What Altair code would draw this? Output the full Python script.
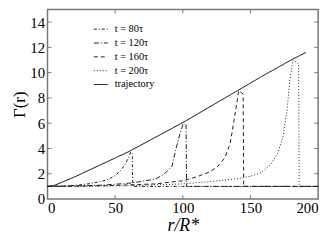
import altair as alt
import pandas as pd

traj_x = [0, 5, 10, 20, 30, 40, 50, 60, 80, 100, 120, 140, 160, 180, 191]
traj_y = [1, 1.08, 1.3, 1.75, 2.25, 2.75, 3.25, 3.75, 4.9, 6.05, 7.3, 8.55, 9.8, 11.0, 11.6]

t80_x = [0, 10, 20, 30, 40, 45, 50, 54, 57, 60, 61.5, 62.6, 63.0, 100, 150, 200]
t80_y = [1, 1.02, 1.08, 1.2, 1.4, 1.57, 1.85, 2.25, 2.7, 3.3, 3.72, 3.6, 1.0, 1.0, 1.0, 1.0]

t120_x = [0, 20, 40, 60, 70, 80, 86, 92, 95, 98, 100.5, 102.4, 102.8, 150, 200]
t120_y = [1, 1.03, 1.1, 1.25, 1.4, 1.6, 1.95, 2.6, 4.0, 5.2, 6.05, 5.9, 1.0, 1.0, 1.0]

t160_x = [0, 40, 80, 100, 110, 120, 126, 131, 135, 138, 141.3, 144.6, 145.0, 200]
t160_y = [1, 1.05, 1.2, 1.45, 1.75, 2.15, 2.6, 3.25, 4.4, 6.3, 8.58, 8.3, 1.0, 1.0]

t200_x = [0, 60, 100, 120, 140, 150, 158, 165, 170, 174, 177, 179, 181.3, 185.6, 186.0, 200]
t200_y = [1, 1.05, 1.2, 1.38, 1.6, 1.8, 2.1, 2.75, 3.6, 4.9, 7.0, 9.3, 11.0, 10.7, 1.0, 1.0]

labels = ["t = 80τ", "t = 120τ", "t = 160τ", "t = 200τ", "trajectory"]
dashes = [[3, 2, 1, 2], [5, 2, 1, 2], [4, 3], [1, 2], [1, 0]]
colors = ["#222222", "#222222", "#222222", "#222222", "#000000"]
widths = [1.0, 1.0, 1.0, 1.0, 1.5]

xticks = [0, 50, 100, 150, 200]
yticks = [0, 2, 4, 6, 8, 10, 12, 14]

rows = []
for lab, xs, ys in zip(labels, [t80_x, t120_x, t160_x, t200_x, traj_x],
                       [t80_y, t120_y, t160_y, t200_y, traj_y]):
    for i, (a, b) in enumerate(zip(xs, ys)):
        rows.append({"series": lab, "r": a, "g": b, "i": i})
df = pd.DataFrame(rows)

W, H = 274, 192
xs = alt.Scale(domain=[0, 200], nice=False)
ys = alt.Scale(domain=[0, 15], nice=False)
xaxis = alt.Axis(values=xticks, title="r/R*", titleFontStyle="italic", titleFontSize=18,
                 titlePadding=1, labelPadding=2, labelOverlap=False)
yaxis = alt.Axis(values=yticks, title="Γ(r)", titleFontSize=17, titlePadding=1,
                 labelPadding=3, labelOverlap=False)

leg = alt.Legend(title=None, orient="none", legendX=46, legendY=12, padding=0,
                 symbolType="stroke", symbolSize=200,
                 labelFont="Liberation Serif", labelFontSize=10.5, rowPadding=0,
                 labelColor="black", labelOffset=6)

lines = alt.Chart(df).mark_line().encode(
    x=alt.X("r:Q", scale=xs, axis=xaxis),
    y=alt.Y("g:Q", scale=ys, axis=yaxis),
    order="i:Q",
    strokeDash=alt.StrokeDash("series:N", scale=alt.Scale(domain=labels, range=dashes), legend=leg),
    color=alt.Color("series:N", scale=alt.Scale(domain=labels, range=colors), legend=leg),
    strokeWidth=alt.StrokeWidth("series:N", scale=alt.Scale(domain=labels, range=widths), legend=leg),
)

tx = pd.DataFrame({"v": xticks[1:-1]})
ty = pd.DataFrame({"v": yticks[1:]})
tick_color = "#777777"
bot = alt.Chart(tx).mark_rule(color=tick_color).encode(
    x=alt.X("v:Q", scale=xs, axis=xaxis), y=alt.value(H), y2=alt.value(H - 4))
top = alt.Chart(tx).mark_rule(color=tick_color).encode(
    x=alt.X("v:Q", scale=xs, axis=xaxis), y=alt.value(0), y2=alt.value(4))
lft = alt.Chart(ty).mark_rule(color=tick_color).encode(
    y=alt.Y("v:Q", scale=ys, axis=yaxis), x=alt.value(0), x2=alt.value(4))
rgt = alt.Chart(ty).mark_rule(color=tick_color).encode(
    y=alt.Y("v:Q", scale=ys, axis=yaxis), x=alt.value(W), x2=alt.value(W - 4))

chart = alt.layer(lines, bot, top, lft, rgt).properties(
    width=W, height=H, autosize=alt.AutoSizeParams(type="none"),
    padding={"left": 40, "top": 0, "right": 10, "bottom": 40},
).configure_view(stroke="#777777", strokeWidth=1.5).configure_axis(
    grid=False, domain=False, ticks=False, labelFont="Liberation Serif", labelFontSize=15,
    labelColor="black", titleFont="Liberation Serif", titleFontWeight="normal", titleColor="black",
)

chart.save("out.html", embed_options={"renderer": "svg", "actions": False})
